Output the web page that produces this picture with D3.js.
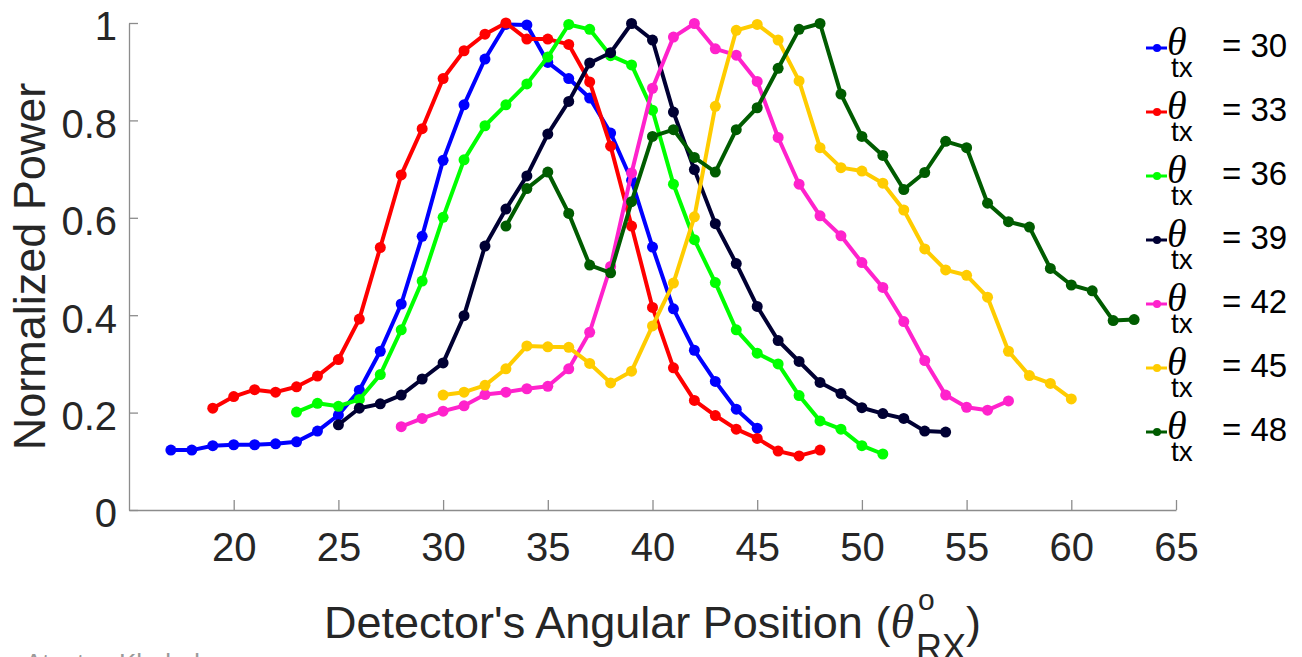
<!DOCTYPE html>
<html lang="en">
<head>
  <meta charset="UTF-8">
  <title>Normalized Power vs Detector Angle</title>
  <script src="https://d3js.org/d3.v7.min.js"></script>
  <style>
    body { margin: 0; background: #fff; }
    svg { display: block; font-family: "Liberation Sans", Arial, Helvetica, sans-serif; }
  </style>
</head>
<body>
  <svg id="chart" width="1302" height="657"></svg>

  <script>
    // transmitter angles (legend) and first receiver angle of each sweep
    const txAngles  = [30, 33, 36, 39, 42, 45, 48];
    const rxStart   = [17, 19, 23, 25, 28, 30, 33];
    const colors    = ["#0000ff", "#ff0000", "#00ff00", "#000033", "#ff22cc", "#ffcc00", "#005c00"];

    // normalized power, one value per degree starting at rxStart
    const p30 = [0.123, 0.123, 0.132, 0.134, 0.134, 0.136, 0.140, 0.162, 0.195, 0.246, 0.326, 0.423, 0.562, 0.718,
                 0.832, 0.926, 0.997, 0.996, 0.919, 0.886, 0.846, 0.774, 0.677, 0.540, 0.413, 0.328, 0.264, 0.207, 0.168];
    const p33 = [0.209, 0.233, 0.247, 0.242, 0.253, 0.275, 0.309, 0.392, 0.539, 0.688, 0.783, 0.886, 0.943, 0.977, 1.000,
                 0.967, 0.967, 0.956, 0.879, 0.747, 0.583, 0.416, 0.292, 0.225, 0.194, 0.166, 0.147, 0.121, 0.111, 0.123];
    const p36 = [0.201, 0.219, 0.213, 0.227, 0.278, 0.370, 0.470, 0.601, 0.719, 0.789, 0.832, 0.875, 0.930, 0.997, 0.987,
                 0.933, 0.914, 0.821, 0.669, 0.555, 0.467, 0.370, 0.322, 0.300, 0.235, 0.183, 0.166, 0.132, 0.115];
    const p39 = [0.175, 0.209, 0.218, 0.236, 0.269, 0.302, 0.399, 0.542, 0.618, 0.686, 0.772, 0.839, 0.918, 0.939, 0.999,
                 0.965, 0.817, 0.699, 0.588, 0.506, 0.418, 0.348, 0.305, 0.262, 0.239, 0.210, 0.198, 0.188, 0.162, 0.160];
    const p42 = [0.171, 0.188, 0.203, 0.214, 0.237, 0.242, 0.249, 0.254, 0.290, 0.365, 0.500, 0.692, 0.866, 0.971, 0.999,
                 0.947, 0.934, 0.880, 0.765, 0.669, 0.604, 0.563, 0.508, 0.457, 0.387, 0.307, 0.236, 0.211, 0.205, 0.224];
    const p45 = [0.236, 0.242, 0.256, 0.290, 0.337, 0.335, 0.334, 0.301, 0.261, 0.285, 0.378, 0.466, 0.602, 0.829, 0.985,
                 0.997, 0.965, 0.881, 0.744, 0.703, 0.696, 0.671, 0.616, 0.536, 0.493, 0.482, 0.437, 0.326, 0.276, 0.260, 0.228];
    const p48 = [0.583, 0.660, 0.694, 0.609, 0.503, 0.487, 0.633, 0.767, 0.781, 0.724, 0.694, 0.781, 0.826, 0.907, 0.987,
                 0.999, 0.854, 0.767, 0.728, 0.658, 0.693, 0.757, 0.744, 0.630, 0.592, 0.581, 0.496, 0.462, 0.450, 0.389, 0.391];
    const powers = [p30, p33, p36, p39, p42, p45, p48];

    const xTicks = [20, 25, 30, 35, 40, 45, 50, 55, 60, 65];
    const yTicks = [0, 0.2, 0.4, 0.6, 0.8, 1];

    const svg = d3.select("#chart");
    const axisGray = "#8c8c8c";
    const textGray = "#262626";
    const serif = "\"Liberation Serif\", \"DejaVu Serif\", serif";

    const x = d3.scaleLinear().domain([15, 65]).range([129, 1176]);
    const y = d3.scaleLinear().domain([0, 1]).range([510, 23]);

    // x axis, ticks pointing inward
    const gx = svg.append("g")
      .attr("transform", `translate(0,${y(0)})`)
      .call(d3.axisBottom(x).tickValues(xTicks).tickSizeInner(-10).tickSizeOuter(0).tickPadding(23));

    // y axis
    const gy = svg.append("g")
      .attr("transform", `translate(${x(15)},0)`)
      .call(d3.axisLeft(y).tickValues(yTicks).tickSizeInner(-9).tickSizeOuter(0).tickPadding(12)
        .tickFormat(d => d3.format("~g")(d)));

    [gx, gy].forEach(g => {
      g.select(".domain").attr("stroke", axisGray).attr("stroke-width", 1.3);
      g.selectAll(".tick line").attr("stroke", axisGray).attr("stroke-width", 1.3);
      g.selectAll(".tick text")
        .attr("fill", textGray)
        .style("font-size", "40px")
        .style("font-family", "\"Liberation Sans\", Arial, sans-serif");
    });
    gy.selectAll(".tick text").attr("dy", "0.42em");

    // y title
    svg.append("text")
      .attr("transform", `translate(45,${(y(0) + y(1)) / 2}) rotate(-90)`)
      .attr("text-anchor", "middle")
      .attr("fill", textGray)
      .style("font-size", "45px")
      .text("Normalized Power");

    // x title with theta^o_RX, placed piece by piece
    const xt = svg.append("g").attr("fill", textGray);
    const mainT = xt.append("text").attr("y", 638).style("font-size", "45px")
      .text("Detector's Angular Position (");
    const thT = xt.append("text").attr("y", 638).style("font-size", "48px")
      .style("font-style", "italic").style("font-family", serif)
      .text("\u03B8");
    const supT = xt.append("text").attr("y", 610).style("font-size", "30px").text("o");
    const subT = xt.append("text").attr("y", 660).style("font-size", "36px").text("RX");
    const closeT = xt.append("text").attr("y", 638).style("font-size", "45px").text(")");

    const wMain = mainT.node().getComputedTextLength();
    const wTh = thT.node().getComputedTextLength();
    const wSub = Math.max(subT.node().getComputedTextLength(), supT.node().getComputedTextLength());
    const wClose = closeT.node().getComputedTextLength();
    const total = wMain + wTh + 2 + wSub + wClose;
    let cx = (x(15) + x(65)) / 2 - total / 2;
    mainT.attr("x", cx); cx += wMain;
    thT.attr("x", cx); cx += wTh + 2;
    supT.attr("x", cx + 2);
    subT.attr("x", cx); cx += wSub;
    closeT.attr("x", cx);

    // curves
    const line = d3.line().x(d => x(d[0])).y(d => y(d[1]));
    powers.forEach((vals, i) => {
      const pts = vals.map((v, k) => [rxStart[i] + k, v]);
      const g = svg.append("g");
      g.append("path")
        .attr("d", line(pts))
        .attr("fill", "none")
        .attr("stroke", colors[i])
        .attr("stroke-width", 4)
        .attr("stroke-linejoin", "round");
      g.selectAll("circle")
        .data(pts)
        .join("circle")
          .attr("cx", d => x(d[0]))
          .attr("cy", d => y(d[1]))
          .attr("r", 5.5)
          .attr("fill", colors[i]);
    });

    // legend
    const leg = svg.append("g");
    txAngles.forEach((a, i) => {
      const b = 57 + i * 64;
      const row = leg.append("g");
      row.append("line")
        .attr("x1", 1146).attr("x2", 1167)
        .attr("y1", b - 9).attr("y2", b - 9)
        .attr("stroke", colors[i]).attr("stroke-width", 3);
      row.append("circle")
        .attr("cx", 1157).attr("cy", b - 9).attr("r", 4)
        .attr("fill", colors[i]);
      row.append("text")
        .attr("x", 1167).attr("y", b - 2)
        .style("font-size", "40px").style("font-style", "italic")
        .style("font-family", serif)
        .text("\u03B8");
      row.append("text")
        .attr("x", 1171).attr("y", b + 20)
        .style("font-size", "28px")
        .text("tx");
      row.append("text")
        .attr("x", 1222).attr("y", b)
        .style("font-size", "33px")
        .text(`= ${a}`);
    });

    // faint cut-off credit at the bottom edge
    svg.append("text")
      .attr("x", 25).attr("y", 672)
      .attr("fill", "#9a9a9a")
      .style("font-size", "26px")
      .text("Atestus Khaled");
  </script>
</body>
</html>
